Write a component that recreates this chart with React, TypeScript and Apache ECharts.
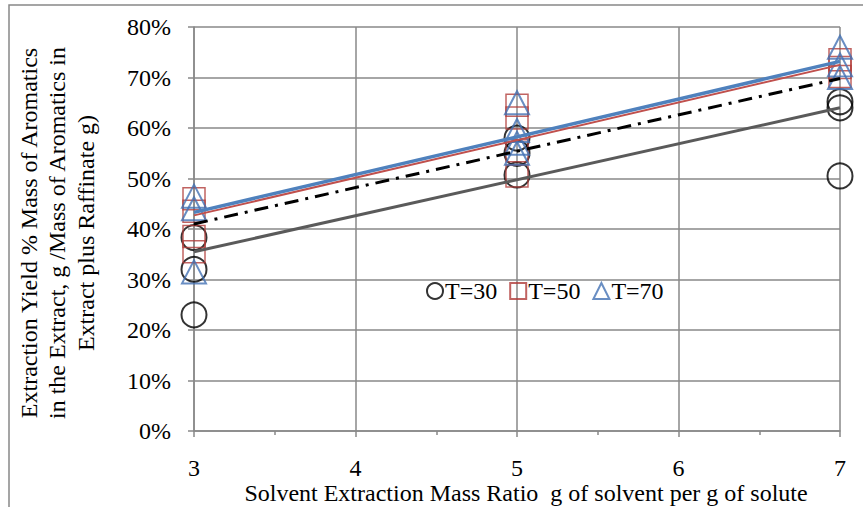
import React, { useEffect, useRef } from "react";
import * as echarts from "echarts";

// Solvent ratio categories (x) and yields (%)
const xT30 = [3, 3, 3, 5, 5, 5, 7, 7, 7];
const yT30 = [23, 32, 38.3, 58, 55, 50.7, 64, 65.2, 50.5];

const xT50 = [3, 3, 3, 3, 5, 5, 5, 5, 7, 7, 7];
const yT50 = [46, 43.5, 38.5, 35.5, 64.5, 62, 55.5, 50.5, 73.5, 72, 70.2];

const xT70 = [3, 3, 3, 5, 5, 5, 5, 7, 7, 7];
const yT70 = [46.5, 44, 31.5, 65, 59.5, 57, 55, 76, 72.5, 70];

// Trendline end points
const trendX = [3, 7];
const trendT30 = [35.5, 64];
const trendAll = [41, 69.8];
const trendT50 = [42.7, 72.5];
const trendT70 = [43.3, 73.2];

const yTicks = [0, 10, 20, 30, 40, 50, 60, 70, 80];

const legendNames = ["T=30", "T=50", "T=70"];

const FONT = "'Liberation Serif', 'Times New Roman', serif";
const GRID_COLOR = "#888888";

const pairs = (xs: number[], ys: number[]) => xs.map((x, i) => [x, ys[i]]);

export default function App() {
  const ref = useRef<HTMLDivElement>(null);
  useEffect(() => {
    if (!ref.current) return;
    const chart = echarts.init(ref.current, null, { renderer: "svg" });
    const c30 = "#000000";
    const c50 = "#b03c3a";
    const c70 = "#4372b4";
    chart.setOption({
      animation: false,
      backgroundColor: "#ffffff",
      grid: { left: 194, right: 23, top: 27, bottom: 76, containLabel: false },
      xAxis: {
        type: "value",
        min: 3,
        max: 7,
        interval: 1,
        axisLine: { show: true, lineStyle: { color: GRID_COLOR, width: 1.5 } },
        axisTick: { show: true, length: 6, lineStyle: { color: GRID_COLOR, width: 1.5 } },
        minorTick: { show: true, splitNumber: 2, length: 4, lineStyle: { color: GRID_COLOR, width: 1.5 } },
        splitLine: { show: true, lineStyle: { color: GRID_COLOR, width: 1.5 } },
        axisLabel: { color: "#000", fontFamily: FONT, fontSize: 24, margin: 25 },
      },
      yAxis: {
        type: "value",
        min: yTicks[0],
        max: yTicks[yTicks.length - 1],
        interval: 10,
        axisLine: { show: true, lineStyle: { color: GRID_COLOR, width: 1.5 } },
        axisTick: { show: true, length: 6, lineStyle: { color: GRID_COLOR, width: 1.5 } },
        splitLine: { show: true, lineStyle: { color: GRID_COLOR, width: 1.5 } },
        axisLabel: { color: "#000", fontFamily: FONT, fontSize: 24, margin: 23, formatter: "{value}%" },
      },
      legend: {
        left: 426,
        top: 279,
        padding: 0,
        itemWidth: 16,
        itemHeight: 16,
        itemGap: 12,
        textStyle: { color: "#000", fontFamily: FONT, fontSize: 24, padding: [0, 0, 0, -3] },
        data: [
          { name: legendNames[0], icon: "circle", itemStyle: { color: "transparent", borderColor: c30, borderWidth: 2 } },
          { name: legendNames[1], icon: "rect", itemStyle: { color: "transparent", borderColor: c50, borderWidth: 2 } },
          { name: legendNames[2], icon: "triangle", itemStyle: { color: "transparent", borderColor: c70, borderWidth: 2 } },
        ],
      },
      series: [
        {
          name: legendNames[0],
          type: "scatter",
          symbol: "circle",
          symbolSize: 25,
          itemStyle: { color: "transparent", borderColor: c30, borderWidth: 2 },
          data: pairs(xT30, yT30),
          z: 2,
        },
        {
          name: legendNames[1],
          type: "scatter",
          symbol: "rect",
          symbolSize: 22,
          itemStyle: { color: "transparent", borderColor: c50, borderWidth: 1.5 },
          data: pairs(xT50, yT50),
          z: 3,
        },
        {
          name: legendNames[2],
          type: "scatter",
          symbol: "triangle",
          symbolSize: [24, 23],
          itemStyle: { color: "transparent", borderColor: c70, borderWidth: 2 },
          data: pairs(xT70, yT70),
          z: 4,
        },
        {
          name: "trend30",
          type: "line",
          showSymbol: false,
          symbol: "none",
          data: pairs(trendX, trendT30),
          lineStyle: { color: "#5a5a5a", width: 3 },
          z: 5,
        },
        {
          name: "trendAll",
          type: "line",
          showSymbol: false,
          symbol: "none",
          data: pairs(trendX, trendAll),
          lineStyle: { color: "#000000", width: 3, type: [14, 7, 3, 7] },
          z: 5,
        },
        {
          name: "trend50",
          type: "line",
          showSymbol: false,
          symbol: "none",
          data: pairs(trendX, trendT50),
          lineStyle: { color: "#c0504d", width: 2 },
          z: 5,
        },
        {
          name: "trend70",
          type: "line",
          showSymbol: false,
          symbol: "none",
          data: pairs(trendX, trendT70),
          lineStyle: { color: "#4f81bd", width: 3.5 },
          z: 6,
        },
      ],
      graphic: [
        {
          type: "rect",
          silent: true,
          shape: { x: 9, y: 5, width: 870, height: 600 },
          style: { fill: "none", stroke: GRID_COLOR, lineWidth: 1.5 },
        },
        {
          type: "text",
          silent: true,
          x: 57,
          y: 233,
          rotation: Math.PI / 2,
          style: {
            text: "Extraction Yield % Mass of Aromatics\nin the Extract, g /Mass of Aromatics in\nExtract plus Raffinate g)",
            fontFamily: FONT,
            fontSize: 24,
            lineHeight: 28.5,
            fill: "#000",
            align: "center",
            verticalAlign: "middle",
          },
        },
        {
          type: "text",
          silent: true,
          x: 526,
          y: 493,
          style: {
            text: "Solvent Extraction Mass Ratio  g of solvent per g of solute",
            fontFamily: FONT,
            fontSize: 24,
            fill: "#000",
            align: "center",
            verticalAlign: "middle",
          },
        },
      ],
    });
    return () => chart.dispose();
  }, []);
  return (
    <div
      ref={ref}
      style={{ position: "fixed", left: 0, top: 0, width: 863, height: 507 }}
    />
  );
}
